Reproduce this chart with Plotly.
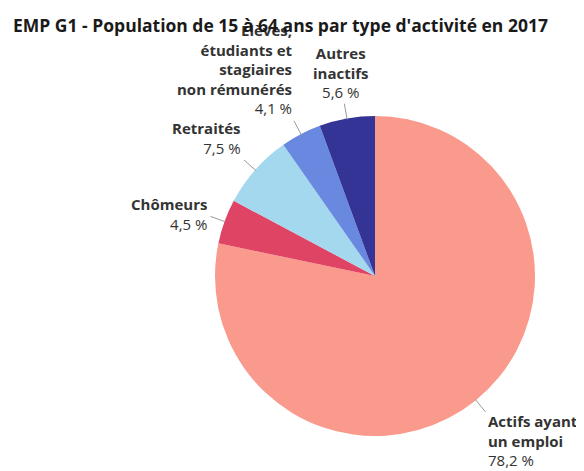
import math
import plotly.graph_objects as go

# the page body adds an 8px margin, so the figure is drawn from (8, 8)
OFF = 8
W, H = 584 - OFF, 471 - OFF

title = "EMP G1 - Population de 15 à 64 ans par type d'activité en 2017"
categories = ["Actifs ayant un emploi", "Chômeurs", "Retraités",
              "Élèves, étudiants et stagiaires non rémunérés", "Autres inactifs"]
values = [78.2, 4.5, 7.5, 4.1, 5.6]
label_names = ["Actifs ayant<br>un emploi", "Chômeurs", "Retraités",
               "Élèves,<br>étudiants et<br>stagiaires<br>non rémunérés", "Autres<br>inactifs"]
value_texts = ["78,2 %", "4,5 %", "7,5 %", "4,1 %", "5,6 %"]

colors = ["#F99A8D", "#E04465", "#A3D8EE", "#6988E0", "#333496"]

# pie geometry (window pixels)
CX, CY, R = 375, 276, 160

# label text anchors (window pixels): x, y, xanchor, yanchor, align
label_pos = [
    (486, 409, "left", "top", "left"),
    (209, 236, "right", "bottom", "right"),
    (243, 160, "right", "bottom", "right"),
    (294, 120, "right", "bottom", "right"),
    (341, 104, "center", "bottom", "center"),
]

def px(x):
    return (x - OFF) / W

def py(y):
    return 1 - (y - OFF) / H

fig = go.Figure(go.Pie(
    labels=categories,
    values=values,
    sort=False,
    direction="clockwise",
    rotation=0,
    marker=dict(colors=colors, line=dict(width=0)),
    textinfo="none",
    hoverinfo="label+percent",
    showlegend=False,
    domain=dict(x=[px(CX - R), px(CX + R)], y=[py(CY + R), py(CY - R)]),
))

total = sum(values)
cum = 0.0
shapes = []
annotations = []
for i, v in enumerate(values):
    mid = (cum + v / 2) / total * 2 * math.pi
    cum += v
    s, c = math.sin(mid), math.cos(mid)
    x0, y0 = CX + (R - 1) * s, CY - (R - 1) * c
    x1, y1 = CX + (R + 15) * s, CY - (R + 15) * c
    shapes.append(dict(type="line", xref="paper", yref="paper",
                       x0=px(x0), y0=py(y0), x1=px(x1), y1=py(y1),
                       line=dict(color="#9a9a9a", width=1)))
    lx, ly, xa, ya, al = label_pos[i]
    annotations.append(dict(
        xref="paper", yref="paper", x=px(lx), y=py(ly),
        xanchor=xa, yanchor=ya, align=al, showarrow=False,
        text=f"<b>{label_names[i]}</b><br>{value_texts[i]}",
        font=dict(family="Open Sans", size=15, color="#333333"),
    ))

annotations.append(dict(
    xref="paper", yref="paper", x=px(11), y=py(25), xanchor="left", yanchor="middle",
    showarrow=False, text=f"<b>{title}</b>",
    font=dict(family="Open Sans", size=17.5, color="#1a1a1a"),
))

fig.update_layout(
    width=W, height=H,
    margin=dict(l=0, r=0, t=0, b=0),
    paper_bgcolor="white", plot_bgcolor="white",
    shapes=shapes, annotations=annotations,
)

fig.write_html("out.html")
